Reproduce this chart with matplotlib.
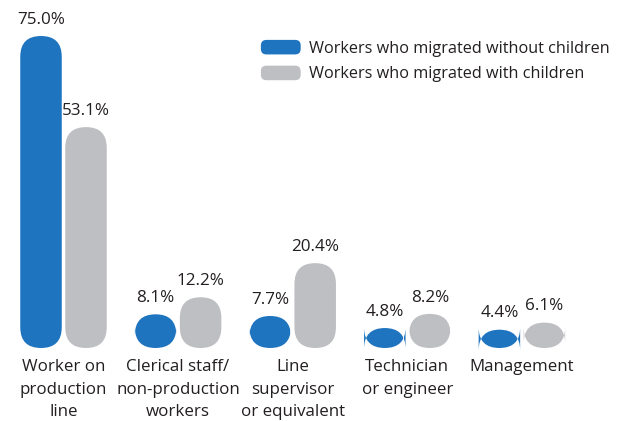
import matplotlib
matplotlib.use("Agg")
import matplotlib.pyplot as plt
from matplotlib.patches import FancyBboxPatch
from matplotlib.legend_handler import HandlerPatch

categories = ["Worker on\nproduction\nline",
              "Clerical staff/\nnon-production\nworkers",
              "Line\nsupervisor\nor equivalent",
              "Technician\nor engineer",
              "Management"]
without_children = [75.0, 8.1, 7.7, 4.8, 4.4]
with_children = [53.1, 12.2, 20.4, 8.2, 6.1]
series_names = ["Workers who migrated without children",
                "Workers who migrated with children"]
colors = ["#1f74bf", "#bebfc2"]

plt.rcParams['font.family'] = ['Open Sans', 'DejaVu Sans']

W, H = 625, 421
fig = plt.figure(figsize=(W / 100, H / 100), dpi=100)
ax = fig.add_axes([0, 0, 1, 1])

# pixel layout -> data limits
px_per_val = 4.16
base_px = 348
group_px = 114.6
first_px = 63.5
ax.set_ylim(-(H - base_px) / px_per_val, base_px / px_per_val)
ax.set_xlim(-first_px / group_px, (W - first_px) / group_px)
ax.axis("off")

bar_w = 41.5 / group_px
offset = 22.5 / group_px
aspect = group_px / px_per_val

for j, vals in enumerate([without_children, with_children]):
    sign = -1 if j == 0 else 1
    for i, v in enumerate(vals):
        x = i + sign * offset
        p = FancyBboxPatch((x - bar_w / 2, 0), bar_w, v,
                           boxstyle="round,pad=0,rounding_size=%f" % (bar_w / 2),
                           mutation_aspect=aspect, fc=colors[j], ec="none")
        ax.add_patch(p)
        ax.annotate("%.1f%%" % v, xy=(x, v), xytext=(0, 6),
                    textcoords="offset points", ha="center", va="bottom",
                    fontsize=12.3, color="#231f20")

for i, c in enumerate(categories):
    ax.annotate(c, xy=(i, 0), xytext=(0, -8), textcoords="offset points",
                ha="center", va="top", fontsize=12.2, color="#231f20",
                linespacing=1.55)


def rounded(legend, orig_handle, xdescent, ydescent, width, height, fontsize):
    return FancyBboxPatch((-xdescent, -ydescent), width, height,
                          boxstyle="round,pad=0,rounding_size=4")


handles = [FancyBboxPatch((0, 0), 1, 1, fc=c, ec="none") for c in colors]
ax.legend(handles, series_names, loc="upper left", bbox_to_anchor=(0.394, 0.94),
          frameon=False, fontsize=11.7, handlelength=2.45, handleheight=1.0,
          handletextpad=0.5, labelspacing=0.55,
          handler_map={FancyBboxPatch: HandlerPatch(patch_func=rounded)},
          labelcolor="#231f20")

fig.savefig("out.png", dpi=100, facecolor="white")
